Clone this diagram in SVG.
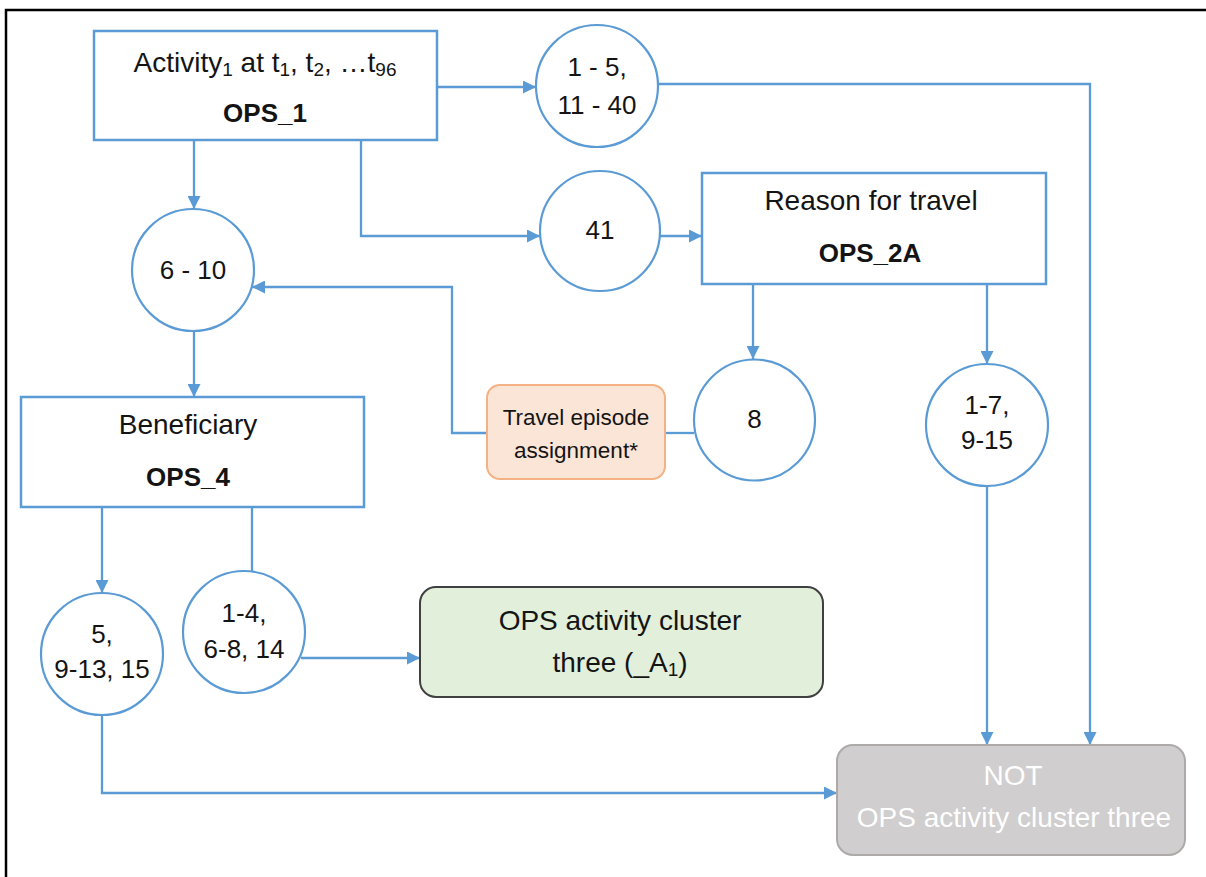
<svg xmlns="http://www.w3.org/2000/svg" width="1206" height="877" viewBox="0 0 1206 877">
<style>
  text { font-family: "Liberation Sans", Arial, sans-serif; font-size: 28px; fill: #141414; text-anchor: middle; }
  .b { font-weight: bold; font-size: 26px; }
  .box { fill: #ffffff; stroke: #5B9BD5; stroke-width: 2.5; }
  .circ { fill: #ffffff; stroke: #5B9BD5; stroke-width: 2.2; }
  .con { fill: none; stroke: #5B9BD5; stroke-width: 2.3; }
  .arr { marker-end: url(#ah); }
  .sub { font-size: 19px; }
  .num { font-size: 26px; }
</style>
<defs>
  <marker id="ah" viewBox="0 0 13 13" refX="13" refY="6.5" markerWidth="13" markerHeight="13" markerUnits="userSpaceOnUse" orient="auto">
    <path d="M0,0 L13,6.5 L0,13 Z" fill="#5B9BD5"/>
  </marker>
</defs>
<rect x="6" y="10" width="1210" height="880" fill="none" stroke="#000" stroke-width="2.5"/>

<g id="connectors">
  <path class="con arr" d="M437,87 L536,87"/>
  <path class="con arr" d="M361,140 L361,236 L540,236"/>
  <path class="con arr" d="M660,236 L702,236"/>
  <path class="con arr" d="M194,140 L194,209"/>
  <path class="con arr" d="M658,84 L1090,84 L1090,745"/>
  <path class="con arr" d="M753,284 L753,359"/>
  <path class="con arr" d="M987,284 L987,364"/>
  <path class="con arr" d="M987,486 L987,745"/>
  <path class="con" d="M665,433 L694,433"/>
  <path class="con arr" d="M487,433 L452,433 L452,287 L252,287"/>
  <path class="con arr" d="M194,331 L194,397"/>
  <path class="con arr" d="M102,507 L102,593"/>
  <path class="con" d="M252,507 L252,571"/>
  <path class="con arr" d="M301,658 L420,658"/>
  <path class="con arr" d="M102,714 L102,793 L837,793"/>
</g>

<g id="ops1">
  <rect class="box" x="94" y="31" width="343" height="109"/>
  <text x="265" y="72">Activity<tspan class="sub" dy="4">1</tspan><tspan dy="-4"> at t</tspan><tspan class="sub" dy="4">1</tspan><tspan dy="-4">, t</tspan><tspan class="sub" dy="4">2</tspan><tspan dy="-4">, …t</tspan><tspan class="sub" dy="4">96</tspan></text>
  <text class="b" x="265" y="122">OPS_1</text>
</g>

<g id="c1-5">
  <circle class="circ" cx="597" cy="86" r="61"/>
  <text class="num" x="597" y="76">1 - 5,</text>
  <text class="num" x="597" y="114">11 - 40</text>
</g>

<g id="c41">
  <circle class="circ" cx="600" cy="231" r="60"/>
  <text class="num" x="600" y="239">41</text>
</g>

<g id="ops2a">
  <rect class="box" x="702" y="173" width="344" height="111"/>
  <text x="871" y="210">Reason for travel</text>
  <text class="b" x="870" y="262">OPS_2A</text>
</g>

<g id="c6-10">
  <circle class="circ" cx="193" cy="270" r="61"/>
  <text class="num" x="193" y="279">6 - 10</text>
</g>

<g id="c8">
  <circle class="circ" cx="754.5" cy="420" r="60.5"/>
  <text class="num" x="754.5" y="428">8</text>
</g>

<g id="c1-7">
  <circle class="circ" cx="987" cy="425" r="61"/>
  <text class="num" x="987" y="414">1-7,</text>
  <text class="num" x="987" y="449">9-15</text>
</g>

<g id="travel">
  <rect x="487" y="385" width="178" height="94" rx="13" fill="#FBE5D6" stroke="#F4B183" stroke-width="2"/>
  <text x="576" y="425" style="font-size:22.5px">Travel episode</text>
  <text x="576" y="458" style="font-size:22.5px">assignment*</text>
</g>

<g id="ops4">
  <rect class="box" x="21" y="397" width="343" height="110"/>
  <text x="188" y="434">Beneficiary</text>
  <text class="b" x="188" y="486">OPS_4</text>
</g>

<g id="c5">
  <circle class="circ" cx="102" cy="654" r="61"/>
  <text class="num" x="102" y="643">5,</text>
  <text class="num" x="102" y="678">9-13, 15</text>
</g>

<g id="c1-4">
  <circle class="circ" cx="244" cy="632" r="61"/>
  <text class="num" x="244" y="622">1-4,</text>
  <text class="num" x="244" y="658">6-8, 14</text>
</g>

<g id="cluster">
  <rect x="420" y="587" width="403" height="110" rx="16" fill="#E2EFDA" stroke="#404040" stroke-width="2"/>
  <text x="620" y="630">OPS activity cluster</text>
  <text x="620" y="672">three (_A<tspan class="sub" dy="4">1</tspan><tspan dy="-4">)</tspan></text>
</g>

<g id="notcluster">
  <rect x="837" y="745" width="348" height="110" rx="16" fill="#D0CECE" stroke="#AEAAAA" stroke-width="2"/>
  <text x="1013" y="785" style="fill:#ffffff">NOT</text>
  <text x="1014" y="827" style="fill:#ffffff">OPS activity cluster three</text>
</g>
</svg>
